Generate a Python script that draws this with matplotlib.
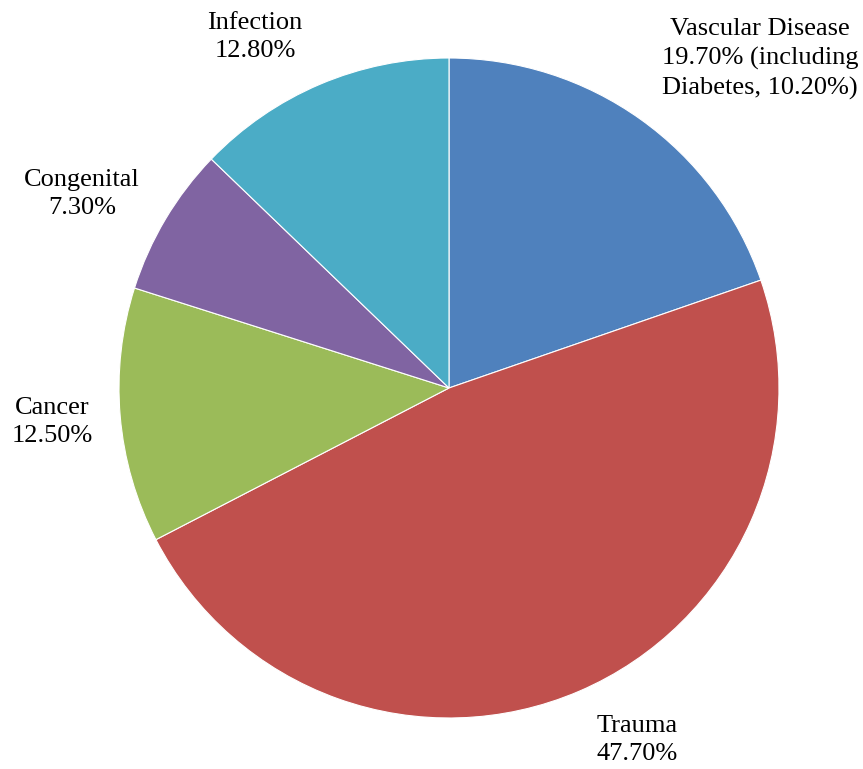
import matplotlib.pyplot as plt

# pie data, clockwise from 12 o'clock
causes = ['Vascular Disease', 'Trauma', 'Cancer', 'Congenital', 'Infection']
shares = [19.7, 47.7, 12.5, 7.3, 12.8]
label_texts = ['Vascular Disease\n19.70% (including\nDiabetes, 10.20%)',
               'Trauma\n47.70%', 'Cancer\n12.50%', 'Congenital\n7.30%', 'Infection\n12.80%']
colors = ['#4F81BD', '#C0504D', '#9BBB59', '#8064A2', '#4BACC6']

# label centres in pixel coords (from top-left)
label_pos = [(760, 59), (637, 740), (52, 422), (82, 194), (255, 37)]

W, H = 863, 769
plt.rcParams['font.family'] = ['Liberation Serif', 'DejaVu Serif']

fig = plt.figure(figsize=(W / 100, H / 100), dpi=100)
ax = fig.add_axes([0, 0, 1, 1])

ax.pie(shares, colors=colors, startangle=90, counterclock=False,
       center=(449, H - 388), radius=330,
       wedgeprops=dict(edgecolor='white', linewidth=0.8), frame=True)
ax.set_xlim(0, W)
ax.set_ylim(0, H)
ax.set_aspect('equal')
ax.axis('off')

for txt, (x, y) in zip(label_texts, label_pos):
    ax.text(x, H - y, txt, ha='center', va='center', fontsize=19,
            linespacing=1.38, color='black')

fig.savefig('out.png', dpi=100)
